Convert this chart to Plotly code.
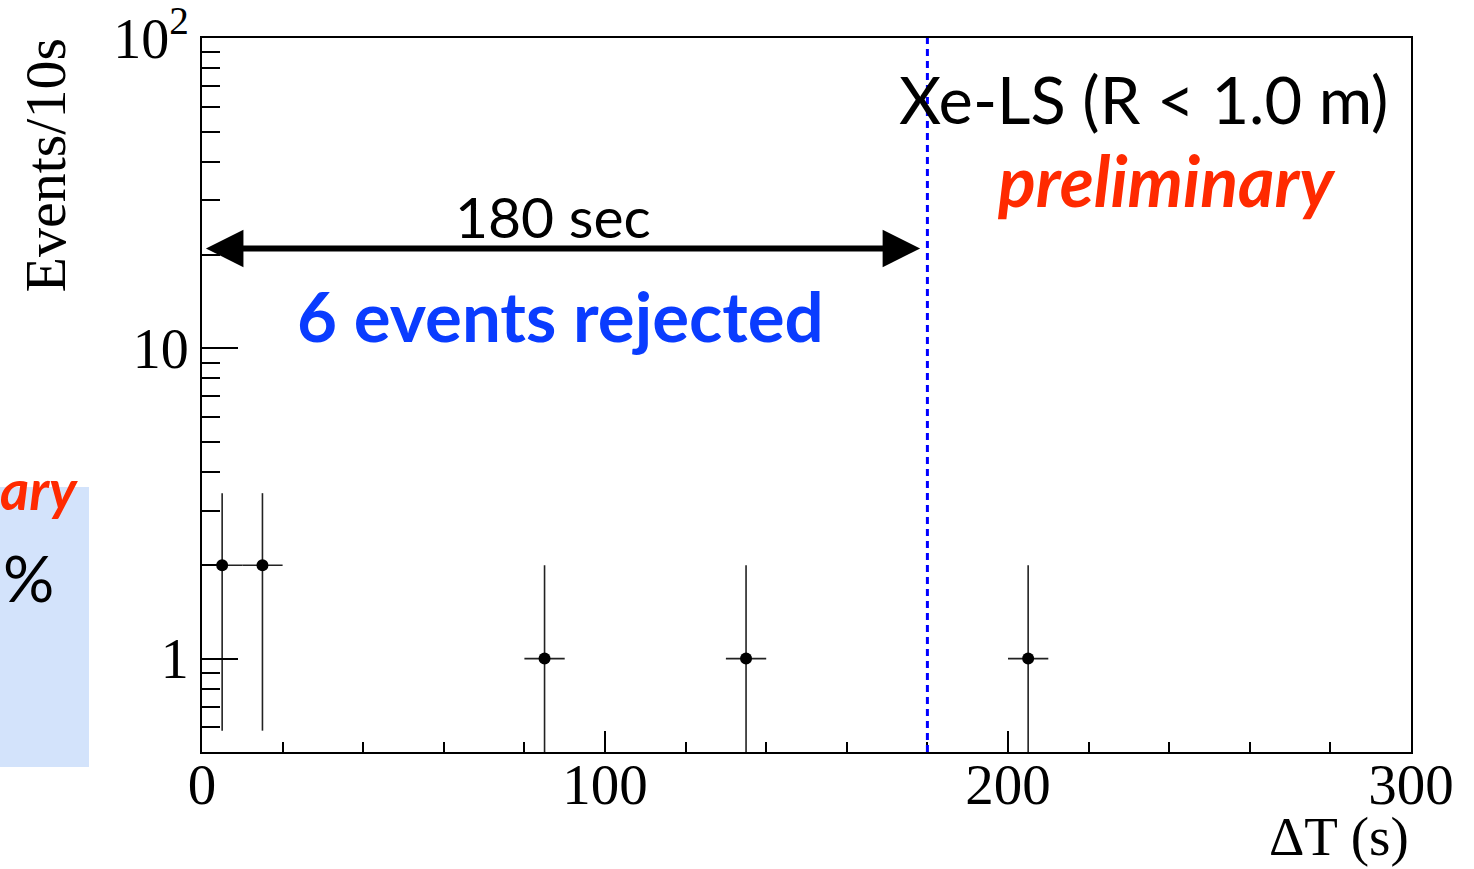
import math
import plotly.graph_objects as go

# ---- data ----
bin_centers = [5, 15, 85, 135, 205]
counts = [2, 2, 1, 1, 1]
bin_half_width = [5, 5, 5, 5, 5]
count_err = [math.sqrt(c) for c in counts]

x_tickvals = [0, 100, 200, 300]
x_ticktext = ["0", "100", "200", "300"]
y_tickvals = [1, 10, 100]
y_ticktext = ["1", "10", "10<sup>2</sup>"]
y_minor = [0.6, 0.7, 0.8, 0.9, 2, 3, 4, 5, 6, 7, 8, 9, 20, 30, 40, 50, 60, 70, 80, 90]

cut_value = 180
arrow_level = 21

W, H = 1474, 869
L, R, T, B = 202, 63, 38, 117
pw, ph = W - L - R, H - T - B


def px(xp):
    return (xp - L) / pw


def py(yp):
    return (H - B - yp) / ph


serif = "Liberation Serif"
sans = "Lato"

fig = go.Figure()
fig.add_trace(go.Scatter(
    x=bin_centers, y=counts, mode="markers",
    marker=dict(color="black", size=12),
    error_y=dict(type="data", array=count_err, arrayminus=count_err, width=0,
                 thickness=1.6, color="#222222"),
    error_x=dict(type="data", array=bin_half_width, width=0, thickness=1.6, color="#222222"),
    showlegend=False,
))

fig.update_layout(
    width=W, height=H,
    margin=dict(l=L, r=R, t=T, b=B, autoexpand=False),
    paper_bgcolor="white", plot_bgcolor="white",
    xaxis=dict(
        range=[0, 300], tickmode="array", tickvals=x_tickvals, ticktext=x_ticktext,
        ticks="inside", ticklen=21, tickwidth=2, tickcolor="black",
        minor=dict(dtick=20, tick0=0, ticks="inside", ticklen=10, tickwidth=2, tickcolor="black"),
        showline=True, linecolor="black", linewidth=2, mirror=True, automargin=False,
        showgrid=False, zeroline=False, ticklabelstandoff=-18, ticklabeloverflow="allow",
        tickfont=dict(family=serif, size=57, color="black"),
    ),
    yaxis=dict(
        type="log", range=[math.log10(0.5), 2.0005], tickmode="array",
        tickvals=y_tickvals, ticktext=y_ticktext,
        ticks="inside", ticklen=36, tickwidth=2, tickcolor="black",
        minor=dict(tickmode="array", tickvals=y_minor, ticks="inside", ticklen=18,
                   tickwidth=2, tickcolor="black"),
        showline=True, linecolor="black", linewidth=2, mirror=True, automargin=False,
        showgrid=False, zeroline=False, ticklabeloverflow="allow",
        tickfont=dict(family=serif, size=56, color="black"),
    ),
)

# slide remnant on the left
fig.add_shape(type="rect", xref="paper", yref="paper",
              x0=px(0), x1=px(89), y0=py(767), y1=py(487),
              fillcolor="#D3E3FB", line=dict(width=0), layer="below")

# cut line
fig.add_shape(type="line", xref="x", yref="paper", x0=cut_value, x1=cut_value, y0=0, y1=1,
              line=dict(color="#0000FF", width=3, dash="7px,5px"))

# double-headed arrow
fig.add_annotation(x=cut_value - 1.8, y=math.log10(arrow_level), xref="x", yref="y",
                   ax=0.6, ay=math.log10(arrow_level), axref="x", ayref="y",
                   text="", showarrow=True, arrowhead=2, startarrowhead=2,
                   arrowside="end+start", arrowwidth=6, arrowsize=1.25, startarrowsize=1.25,
                   arrowcolor="black")

ann = [
    dict(text="180 sec", x=px(553), y=py(216), xanchor="center", yanchor="middle",
         font=dict(family=sans, size=57, color="black")),
    dict(text="<b>6 events rejected</b>", x=px(560), y=py(316), xanchor="center", yanchor="middle",
         font=dict(family=sans, size=69, color="#0A3CFF")),
    dict(text="Xe-LS (R &lt; 1.0 m)", x=px(1390), y=py(99), xanchor="right", yanchor="middle",
         font=dict(family=sans, size=65, color="black")),
    dict(text="<b><i>preliminary</i></b>", x=px(1166), y=py(180), xanchor="center", yanchor="middle",
         font=dict(family=sans, size=70, color="#FF2A00")),
    dict(text="<b><i>ary</i></b>", x=px(80), y=py(488), xanchor="right", yanchor="middle",
         font=dict(family=sans, size=56, color="#FF2A00")),
    dict(text="%", x=px(1), y=py(577), xanchor="left", yanchor="middle",
         font=dict(family=sans, size=64, color="black")),
    dict(text="Events/10s", x=px(45), y=py(36), xanchor="center", yanchor="top", textangle=-90,
         font=dict(family=serif, size=58, color="black")),
    dict(text="ΔT (s)", x=1.0, y=py(869), xanchor="right", yanchor="bottom",
         font=dict(family=serif, size=55, color="black")),
]
for a in ann:
    fig.add_annotation(xref="paper", yref="paper", showarrow=False, **a)

fig.write_html("out.html")
